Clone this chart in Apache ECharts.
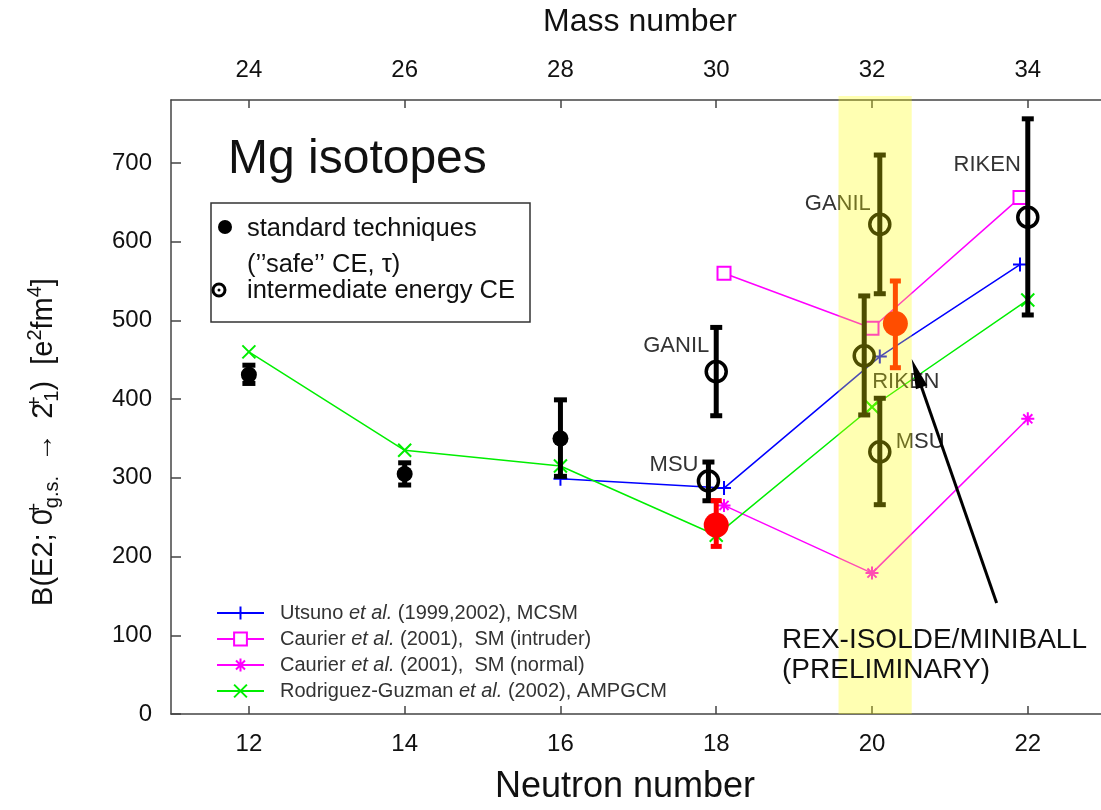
<!DOCTYPE html>
<html>
<head>
<meta charset="utf-8">
<script src="https://cdn.jsdelivr.net/npm/echarts@6/dist/echarts.min.js"></script>
<style>
  html, body { margin: 0; padding: 0; background: #fff; }
  #chart { width: 1101px; height: 810px; }
</style>
</head>
<body>
<div id="chart"></div>
<script>
// Axis ticks
const neutronTicks = [12, 14, 16, 18, 20, 22];
const massTicks = [24, 26, 28, 30, 32, 34];
const yTicks = [0, 100, 200, 300, 400, 500, 600, 700];

// Standard techniques ("safe" CE, lifetime): N, B(E2), lower, upper
const stdN = [12, 14, 16];
const stdVal = [431, 305, 350];
const stdLo = [418, 289, 300];
const stdHi = [445, 321, 401];

// Intermediate energy Coulomb excitation
const ieLab = ['GANIL', 'MSU', 'GANIL', 'RIKEN', 'MSU', 'RIKEN'];
const ieN = [18.0, 17.9, 20.1, 19.9, 20.1, 22.0];
const ieVal = [435, 296, 622, 455, 333, 631];
const ieLo = [377, 269, 532, 378, 264, 505];
const ieHi = [493, 322, 712, 533, 403, 758];

// REX-ISOLDE / MINIBALL (preliminary)
const rexN = [18.0, 20.3];
const rexVal = [240, 496];
const rexLo = [211, 438];
const rexHi = [273, 552];

// Theory curves
const utsunoN = [16, 18.1, 20.1, 21.9];
const utsunoVal = [299, 287, 454, 571];
const caurIntN = [18.1, 20.0, 21.9];
const caurIntVal = [560, 490, 656];
const caurNormN = [18.1, 20.0, 22.0];
const caurNormVal = [265, 179, 375];
const rodN = [12, 14, 16, 18, 20, 22];
const rodVal = [460, 335, 315, 227, 390, 526];

// Shaded N = 20 region
const bandN = [19.57, 20.51];
// Arrow from the REX-ISOLDE note to the N = 20 point: tail N, tail B, tip N, tip B
const arrowPts = [21.6, 141, 20.51, 451];

const seriesNames = [
  'Utsuno et al. (1999,2002), MCSM',
  'Caurier et al. (2001),  SM (intruder)',
  'Caurier et al. (2001),  SM (normal)',
  'Rodriguez-Guzman et al. (2002), AMPGCM'
];

// Label placement for intermediate-energy points (text anchor offset in px)
const ieLabelStyle = [
  { dx: -7, dy: -26, align: 'right' },
  { dx: -10, dy: -16, align: 'right' },
  { dx: -9, dy: -20, align: 'right' },
  { dx: 8, dy: 26, align: 'left' },
  { dx: 16, dy: -10, align: 'left' },
  { dx: -7, dy: -52, align: 'right' }
];

const FONT = '"Liberation Sans", Arial, sans-serif';
const zip = (a, b) => a.map((v, i) => [v, b[i]]);
const zip4 = (a, b, c, d) => a.map((v, i) => [v, b[i], c[i], d[i]]);

const plusSym = 'path://M0,5L10,5M5,0L5,10';
const crossSym = 'path://M0,0L10,10M10,0L0,10';
const starSym = 'path://M0,5L10,5M5,0L5,10M1.5,1.5L8.5,8.5M8.5,1.5L1.5,8.5';

function errorBarRenderer(cfg) {
  return function (params, api) {
    const x = api.value(0);
    const c = api.coord([x, api.value(1)]);
    const lo = api.coord([x, api.value(2)]);
    const hi = api.coord([x, api.value(3)]);
    const children = [
      { type: 'line', shape: { x1: c[0], y1: lo[1], x2: c[0], y2: hi[1] },
        style: { stroke: cfg.color, lineWidth: cfg.barWidth } },
      { type: 'rect', shape: { x: c[0] - cfg.capW / 2, y: hi[1] - 1, width: cfg.capW, height: cfg.capH },
        style: { fill: cfg.color } },
      { type: 'rect', shape: { x: c[0] - cfg.capW / 2, y: lo[1] - cfg.capH + 1, width: cfg.capW, height: cfg.capH },
        style: { fill: cfg.color } }
    ];
    if (cfg.open) {
      children.push({ type: 'circle', shape: { cx: c[0], cy: c[1], r: cfg.r },
        style: { fill: 'none', stroke: cfg.color, lineWidth: cfg.ring } });
    } else {
      children.push({ type: 'circle', shape: { cx: c[0], cy: c[1], r: cfg.r },
        style: { fill: cfg.color } });
    }
    if (cfg.labels) {
      const ls = cfg.labelStyle[params.dataIndex];
      children.push({ type: 'text', style: {
        text: cfg.labels[params.dataIndex], x: c[0] + ls.dx, y: c[1] + ls.dy,
        align: ls.align, verticalAlign: 'middle',
        fontSize: 22, fontFamily: FONT, fill: '#333' } });
    }
    return { type: 'group', children: children };
  };
}

const chart = echarts.init(document.getElementById('chart'));

const axisLineStyle = { color: '#444', width: 1.5 };

const option = {
  backgroundColor: '#fff',
  animation: false,
  grid: { left: 171, top: 100, right: 0, bottom: 93.5 },
  xAxis: [
    {
      type: 'value', position: 'bottom', min: 11, max: 22.94,
      axisLine: { show: true, onZero: false, lineStyle: axisLineStyle },
      axisTick: { show: true, inside: true, length: 8, customValues: neutronTicks, lineStyle: axisLineStyle },
      axisLabel: { customValues: neutronTicks, fontSize: 24, fontFamily: FONT, color: '#111', margin: 18 },
      splitLine: { show: false },
      name: 'Neutron number', nameLocation: 'middle', nameGap: 55,
      nameTextStyle: { fontSize: 36, fontFamily: FONT, color: '#111', padding: [0, 22, 0, 0] }
    },
    {
      type: 'value', position: 'top', min: 23, max: 34.94,
      axisLine: { show: true, onZero: false, lineStyle: axisLineStyle },
      axisTick: { show: true, inside: true, length: 8, customValues: massTicks, lineStyle: axisLineStyle },
      axisLabel: { customValues: massTicks, fontSize: 24, fontFamily: FONT, color: '#111', margin: 18 },
      splitLine: { show: false },
      name: 'Mass number', nameLocation: 'middle', nameGap: 62,
      nameTextStyle: { fontSize: 32, fontFamily: FONT, color: '#111', padding: [0, 0, 0, 8] }
    }
  ],
  yAxis: {
    type: 'value', min: 0, max: 780,
    axisLine: { show: true, lineStyle: axisLineStyle },
    axisTick: { show: true, inside: true, length: 10, customValues: yTicks, lineStyle: axisLineStyle },
    axisLabel: { customValues: yTicks, fontSize: 24, fontFamily: FONT, color: '#111', margin: 19 },
    splitLine: { show: false }
  },
  legend: {
    orient: 'vertical', left: 211, top: 598,
    itemWidth: 47, itemHeight: 16, itemGap: 6,
    data: seriesNames,
    textStyle: {
      fontSize: 20, fontFamily: FONT, color: '#333', padding: [0, 0, 0, 11],
      rich: { i: { fontSize: 20, fontStyle: 'italic', fontFamily: FONT, color: '#333' } }
    },
    formatter: name => name.replace('et al.', '{i|et al.}')
  },
  series: [
    {
      name: seriesNames[0], type: 'line', z: 2, data: zip(utsunoN, utsunoVal),
      symbol: plusSym, symbolSize: 14, showSymbol: true,
      lineStyle: { color: '#0000ff', width: 1.5 },
      itemStyle: { color: '#0000ff', borderColor: '#0000ff', borderWidth: 2 }
    },
    {
      name: seriesNames[1], type: 'line', z: 2, data: zip(caurIntN, caurIntVal),
      symbol: 'emptyRect', symbolSize: 13, showSymbol: true,
      lineStyle: { color: '#ff00ff', width: 1.5 },
      itemStyle: { color: '#ff00ff', borderColor: '#ff00ff', borderWidth: 2 }
    },
    {
      name: seriesNames[2], type: 'line', z: 2, data: zip(caurNormN, caurNormVal),
      symbol: starSym, symbolSize: 13, showSymbol: true,
      lineStyle: { color: '#ff00ff', width: 1.5 },
      itemStyle: { color: '#ff00ff', borderColor: '#ff00ff', borderWidth: 2 }
    },
    {
      name: seriesNames[3], type: 'line', z: 2, data: zip(rodN, rodVal),
      symbol: crossSym, symbolSize: 13, showSymbol: true,
      lineStyle: { color: '#00ee00', width: 1.5 },
      itemStyle: { color: '#00ee00', borderColor: '#00ee00', borderWidth: 2 }
    },
    {
      name: 'standard techniques', type: 'custom', z: 5,
      data: zip4(stdN, stdVal, stdLo, stdHi),
      renderItem: errorBarRenderer({ color: '#000', barWidth: 5, capW: 13, capH: 5, r: 8 })
    },
    {
      name: 'intermediate energy CE', type: 'custom', z: 5,
      data: zip4(ieN, ieVal, ieLo, ieHi),
      renderItem: errorBarRenderer({ color: '#000', barWidth: 5, capW: 12, capH: 5, r: 10, open: true, ring: 3.5,
        labels: ieLab, labelStyle: ieLabelStyle })
    },
    {
      name: 'REX-ISOLDE', type: 'custom', z: 6,
      data: zip4(rexN, rexVal, rexLo, rexHi),
      renderItem: errorBarRenderer({ color: '#ff0000', barWidth: 5, capW: 11, capH: 5, r: 12.5 })
    },
    {
      name: 'N=20 band', type: 'custom', z: 20,
      data: [bandN],
      renderItem: function (params, api) {
        const a = api.coord([api.value(0), 780]);
        const b = api.coord([api.value(1), 0]);
        return { type: 'rect', shape: { x: a[0], y: a[1] - 4, width: b[0] - a[0], height: b[1] - a[1] + 4 },
          style: { fill: 'rgba(255,255,0,0.3)' } };
      }
    },
    {
      name: 'arrow', type: 'custom', z: 30,
      data: [arrowPts],
      renderItem: function (params, api) {
        const t = api.coord([api.value(0), api.value(1)]);
        const h = api.coord([api.value(2), api.value(3)]);
        const dx = h[0] - t[0], dy = h[1] - t[1];
        const len = Math.sqrt(dx * dx + dy * dy);
        const ux = dx / len, uy = dy / len;
        const headL = 30, headW = 6;
        const bx = h[0] - ux * headL, by = h[1] - uy * headL;
        return { type: 'group', children: [
          { type: 'line', shape: { x1: t[0], y1: t[1], x2: bx + ux * 4, y2: by + uy * 4 },
            style: { stroke: '#000', lineWidth: 3 } },
          { type: 'polygon', shape: { points: [
              [h[0], h[1]],
              [bx - uy * headW, by + ux * headW],
              [bx + uy * headW, by - ux * headW]] },
            style: { fill: '#000' } }
        ] };
      }
    }
  ],
  graphic: [
    { type: 'text', z: 40, style: { text: 'Mg isotopes', x: 228, y: 160, verticalAlign: 'middle',
      fontSize: 48, fontFamily: FONT, fill: '#111' } },
    { type: 'rect', z: 40, shape: { x: 211, y: 203, width: 319, height: 119 },
      style: { fill: 'none', stroke: '#333', lineWidth: 1.5 } },
    { type: 'circle', z: 40, shape: { cx: 225, cy: 227, r: 7 }, style: { fill: '#000' } },
    { type: 'text', z: 40, style: { text: 'standard techniques', x: 247, y: 229, verticalAlign: 'middle',
      fontSize: 25.5, fontFamily: FONT, fill: '#111' } },
    { type: 'text', z: 40, style: { text: '(\u2019\u2019safe\u2019\u2019 CE, \u03c4)', x: 247, y: 265, verticalAlign: 'middle',
      fontSize: 25.5, fontFamily: FONT, fill: '#111' } },
    { type: 'circle', z: 40, shape: { cx: 219, cy: 290, r: 6 }, style: { fill: 'none', stroke: '#000', lineWidth: 3 } },
    { type: 'circle', z: 40, shape: { cx: 219, cy: 290, r: 1.5 }, style: { fill: '#000' } },
    { type: 'text', z: 40, style: { text: 'intermediate energy CE', x: 247, y: 291, verticalAlign: 'middle',
      fontSize: 25.5, fontFamily: FONT, fill: '#111' } },
    { type: 'text', z: 40, style: { text: 'REX-ISOLDE/MINIBALL', x: 782, y: 640, verticalAlign: 'middle',
      fontSize: 28, fontFamily: FONT, fill: '#111' } },
    { type: 'text', z: 40, style: { text: '(PRELIMINARY)', x: 782, y: 670, verticalAlign: 'middle',
      fontSize: 28, fontFamily: FONT, fill: '#111' } },
    { type: 'text', z: 40, x: 44, y: 442, rotation: Math.PI / 2, style: {
      text: 'B(E2; 0{supz|+}{sub|g.s.} {ar|\u2192} 2{supz|+}{sub|1})  [e{sup|2}fm{sup|4}]',
      align: 'center', verticalAlign: 'middle',
      fontSize: 29, fontFamily: FONT, fill: '#111',
      rich: {
        sup: { fontSize: 20, padding: [0, 0, 18, 0], fontFamily: FONT, fill: '#111' },
        supz: { fontSize: 20, width: 1, padding: [0, 0, 18, 0], fontFamily: FONT, fill: '#111' },
        sub: { fontSize: 20, padding: [16, 0, 0, 0], fontFamily: FONT, fill: '#111' },
        ar: { fontSize: 29, padding: [0, 6, 0, 6], fontFamily: FONT, fill: '#111' }
      } } }
  ]
};

chart.setOption(option);
</script>
</body>
</html>
